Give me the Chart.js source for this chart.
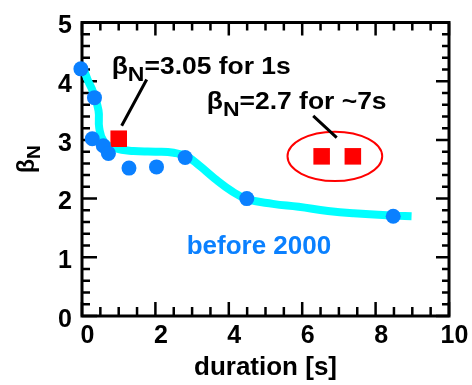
<!DOCTYPE html>
<html><head><meta charset="utf-8">
<script src="https://cdn.jsdelivr.net/npm/chart.js@4"></script>
<style>html,body{margin:0;padding:0;background:#fff}canvas{display:block}</style>
</head><body>
<canvas id="c" width="472" height="385"></canvas>
<script>
// ---- data ----
const xTicks = [0, 2, 4, 6, 8, 10];
const yTicks = [0, 1, 2, 3, 4, 5];
const curveX = [0.05, 0.17, 0.30, 0.45, 0.47, 0.60, 0.90, 1.40, 2.00, 2.50, 2.85, 3.20, 3.60, 4.10, 4.50, 5.20, 5.90, 6.70, 7.40, 8.50, 8.98];
const curveY = [4.20, 4.00, 3.82, 3.50, 3.20, 2.97, 2.86, 2.81, 2.80, 2.78, 2.72, 2.56, 2.35, 2.12, 1.99, 1.91, 1.86, 1.79, 1.75, 1.71, 1.70];
const dotX = [-0.03, 0.34, 0.28, 0.58, 0.72, 1.28, 2.03, 2.81, 4.49, 8.48];
const dotY = [4.21, 3.72, 3.02, 2.90, 2.77, 2.52, 2.54, 2.70, 2.00, 1.70];
const squareX = [1.00, 6.53, 7.38];
const squareY = [3.02, 2.72, 2.72];
const ellipseCenter = [6.89, 2.72];
const ellipseRadii = [1.29, 0.42];
const pointerLines = [[[1.763, 4.03], [1.081, 3.24]], [[6.30, 3.41], [6.94, 3.04]]];
const notes = [
  {x: 0.81, y: 4.125, text: '=3.05 for 1s'},
  {x: 3.40, y: 3.52, text: '=2.7 for ~7s'}
];
const legendNote = {x: 4.82, y: 1.056, text: 'before 2000'};
const xTitle = 'duration [s]';

// ---- styling ----
const FONT = '"Liberation Sans", Arial, Helvetica, sans-serif';
const BLUE = '#0a80ff';
const CYAN = '#00ffff';
const RED = '#ff0000';

function betaText(ctx, x, y, rest, mainPx, subPx, shift, sx, color) {
  ctx.save();
  ctx.translate(x, y);
  ctx.scale(sx, 1);
  ctx.fillStyle = color;
  ctx.textBaseline = 'alphabetic';
  ctx.textAlign = 'left';
  ctx.font = `bold ${mainPx}px ${FONT}`;
  ctx.fillText('\u03B2', 0, 0);
  let w = ctx.measureText('\u03B2').width;
  ctx.font = `bold ${subPx}px ${FONT}`;
  ctx.fillText('N', w, shift);
  w += ctx.measureText('N').width;
  if (rest) {
    ctx.font = `bold ${mainPx}px ${FONT}`;
    ctx.fillText(rest, w, 0);
  }
  ctx.restore();
}

const framePlugin = {
  id: 'frame',
  beforeDatasetsDraw(chart) {
    const {ctx, chartArea: a, scales: {x, y}} = chart;
    ctx.save();
    ctx.strokeStyle = '#000';
    ctx.lineCap = 'butt';
    ctx.lineWidth = 2.5;
    ctx.beginPath();
    for (let v = 0; v <= 10.001; v += 0.5) {
      const px = x.getPixelForValue(v);
      const major = Math.abs(v / 2 - Math.round(v / 2)) < 1e-6;
      const lb = major ? 14 : 9, lt = major ? 13 : 8;
      ctx.moveTo(px, a.bottom); ctx.lineTo(px, a.bottom - lb);
      ctx.moveTo(px, a.top); ctx.lineTo(px, a.top + lt);
    }
    for (let i = 0; i <= 25; i++) {
      const v = i * 0.2;
      const py = y.getPixelForValue(v);
      const major = i % 5 === 0;
      const ll = major ? 15 : 8, lr = major ? 13 : 7;
      ctx.moveTo(a.left, py); ctx.lineTo(a.left + ll, py);
      ctx.moveTo(a.right, py); ctx.lineTo(a.right - lr, py);
    }
    ctx.stroke();
    ctx.lineWidth = 3;
    ctx.strokeRect(a.left, a.top, a.right - a.left, a.bottom - a.top);
    ctx.restore();
  },
  afterDatasetsDraw(chart) {
    const {ctx, scales: {x, y}} = chart;
    ctx.save();
    ctx.strokeStyle = RED;
    ctx.lineWidth = 2;
    const cx = x.getPixelForValue(ellipseCenter[0]);
    const cy = y.getPixelForValue(ellipseCenter[1]);
    const rx = Math.abs(x.getPixelForValue(ellipseCenter[0] + ellipseRadii[0]) - cx);
    const ry = Math.abs(y.getPixelForValue(ellipseCenter[1] + ellipseRadii[1]) - cy);
    ctx.beginPath();
    ctx.ellipse(cx, cy, rx, ry, 0, 0, Math.PI * 2);
    ctx.stroke();
    ctx.strokeStyle = '#000';
    ctx.lineWidth = 3;
    ctx.beginPath();
    pointerLines.forEach(([p, q]) => {
      ctx.moveTo(x.getPixelForValue(p[0]), y.getPixelForValue(p[1]));
      ctx.lineTo(x.getPixelForValue(q[0]), y.getPixelForValue(q[1]));
    });
    ctx.stroke();
    ctx.restore();
    notes.forEach(n => betaText(ctx, x.getPixelForValue(n.x), y.getPixelForValue(n.y), n.text, 23, 20, 7, 1.15, '#000'));
    ctx.save();
    ctx.fillStyle = BLUE;
    ctx.font = `bold 26px ${FONT}`;
    ctx.textAlign = 'center';
    ctx.textBaseline = 'alphabetic';
    ctx.fillText(legendNote.text, x.getPixelForValue(legendNote.x), y.getPixelForValue(legendNote.y));
    ctx.restore();
    ctx.save();
    ctx.translate(34, 173);
    ctx.rotate(-Math.PI / 2);
    betaText(ctx, 0, 0, '', 23, 19, 6, 1, '#000');
    ctx.restore();
  }
};

const toXY = (xs, ys) => xs.map((v, i) => ({x: v, y: ys[i]}));

new Chart(document.getElementById('c'), {
  type: 'scatter',
  data: {
    datasets: [
      {data: toXY(dotX, dotY), pointStyle: 'circle', pointRadius: 7.5, pointHoverRadius: 7.5,
       backgroundColor: BLUE, borderColor: BLUE, borderWidth: 0, clip: false},
      {data: toXY(squareX, squareY), pointStyle: 'rect', pointRadius: 11.7, pointHoverRadius: 11.7,
       backgroundColor: RED, borderColor: RED, borderWidth: 0, clip: false},
      {type: 'line', data: toXY(curveX, curveY), showLine: true, borderColor: CYAN, borderWidth: 8,
       pointRadius: 0, tension: 0.45, borderCapStyle: 'butt', borderJoinStyle: 'round', fill: false, clip: false}
    ]
  },
  options: {
    responsive: false,
    animation: false,
    devicePixelRatio: 1,
    layout: {padding: {top: 13, right: 23, left: 0, bottom: 0}},
    plugins: {legend: {display: false}, tooltip: {enabled: false}},
    events: [],
    scales: {
      x: {
        type: 'linear', min: 0, max: 10,
        afterBuildTicks: s => { s.ticks = xTicks.map(v => ({value: v})); },
        afterFit: s => { s.height = 69; },
        grid: {display: false, drawTicks: false},
        border: {display: false},
        ticks: {font: {family: FONT, size: 25, weight: 'bold', lineHeight: 1.2}, color: '#000', padding: 5,
                labelOffset: 5.5, maxRotation: 0, autoSkip: false},
        title: {display: true, text: xTitle, color: '#000', font: {family: FONT, size: 26, weight: 'bold', lineHeight: 1.2},
                padding: {top: 0, bottom: 2}}
      },
      y: {
        type: 'linear', min: 0, max: 5,
        afterBuildTicks: s => { s.ticks = yTicks.map(v => ({value: v})); },
        afterFit: s => { s.width = 82; },
        grid: {display: false, drawTicks: false},
        border: {display: false},
        ticks: {font: {family: FONT, size: 25, weight: 'bold', lineHeight: 1}, color: '#000', padding: 10,
                labelOffset: 4, autoSkip: false}
      }
    }
  },
  plugins: [framePlugin]
});
</script>
</body></html>
